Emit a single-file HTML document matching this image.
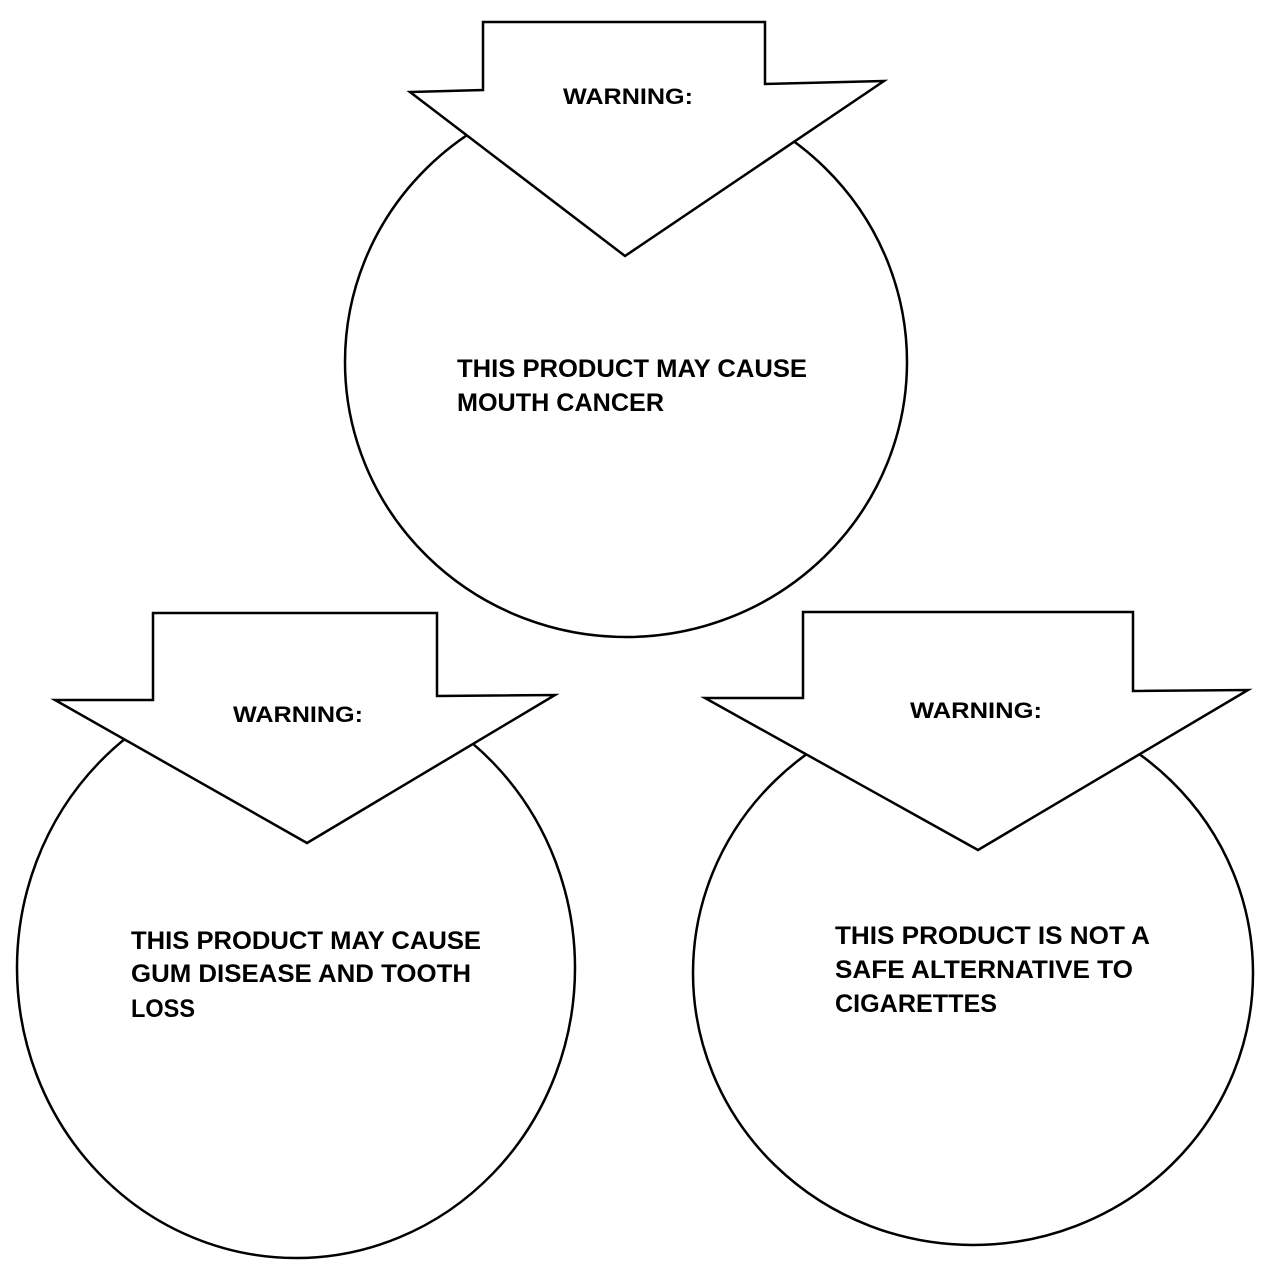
<!DOCTYPE html>
<html><head><meta charset="utf-8"><style>
html,body{margin:0;padding:0;background:#fff;}
svg{display:block}
text{font-family:"Liberation Sans",sans-serif;font-weight:bold;fill:#000;}
</style></head><body>
<svg width="1270" height="1270" viewBox="0 0 1270 1270" xmlns="http://www.w3.org/2000/svg">
<g fill="#fff" stroke="#000" stroke-width="2.5">
<ellipse cx="626" cy="362" rx="281" ry="275"/>
<polygon points="483,22 765,22 765,84 884,81 625,256 410,92 483,90"/>
<ellipse cx="296" cy="968" rx="279" ry="290"/>
<polygon points="153,613 437,613 437,696 555,695 307,843 55,700 153,700"/>
<ellipse cx="973" cy="973" rx="280" ry="272"/>
<polygon points="803,612 1133,612 1133,691 1248,690 978,850 705,698 803,698"/>
</g>
<g font-size="25">
<text x="563" y="104" textLength="130" lengthAdjust="spacingAndGlyphs" font-size="22">WARNING:</text>
<text x="233" y="722" textLength="130" lengthAdjust="spacingAndGlyphs" font-size="22">WARNING:</text>
<text x="910" y="718" textLength="132" lengthAdjust="spacingAndGlyphs" font-size="22">WARNING:</text>
<text x="457" y="377" textLength="350" lengthAdjust="spacingAndGlyphs">THIS PRODUCT MAY CAUSE</text>
<text x="457" y="411" textLength="207" lengthAdjust="spacingAndGlyphs">MOUTH CANCER</text>
<text x="131" y="949" textLength="350" lengthAdjust="spacingAndGlyphs">THIS PRODUCT MAY CAUSE</text>
<text x="131" y="982" textLength="340" lengthAdjust="spacingAndGlyphs">GUM DISEASE AND TOOTH</text>
<text x="131" y="1017" textLength="64" lengthAdjust="spacingAndGlyphs">LOSS</text>
<text x="835" y="944" textLength="315" lengthAdjust="spacingAndGlyphs">THIS PRODUCT IS NOT A</text>
<text x="835" y="978" textLength="298" lengthAdjust="spacingAndGlyphs">SAFE ALTERNATIVE TO</text>
<text x="835" y="1012" textLength="162" lengthAdjust="spacingAndGlyphs">CIGARETTES</text>
</g>
</svg>
</body></html>
